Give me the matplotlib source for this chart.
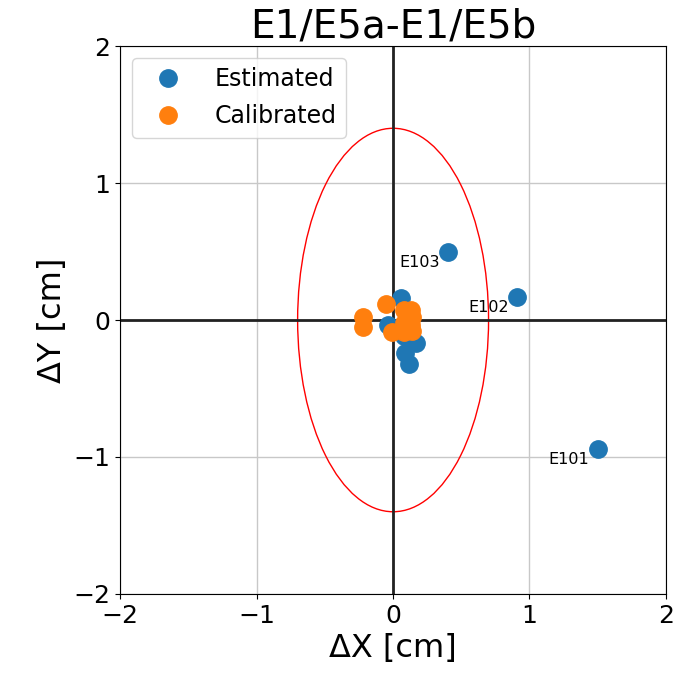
import matplotlib

matplotlib.use("Agg")
import matplotlib.pyplot as plt
from matplotlib.patches import Ellipse

# estimated positions (cm)
est_x = [1.50, 0.91, 0.40, 0.06, -0.04, 0.17, 0.09, 0.12, 0.08]
est_y = [-0.94, 0.17, 0.50, 0.16, -0.04, -0.17, -0.24, -0.32, -0.12]
est_names = ["E101", "E102", "E103"]

# calibrated positions (cm)
cal_x = [-0.05, -0.22, -0.22, -0.01, 0.08, 0.13, 0.14, 0.08, 0.13, 0.08, 0.14, 0.11]
cal_y = [0.12, 0.02, -0.05, -0.09, 0.07, 0.07, 0.02, -0.02, -0.04, -0.09, -0.08, 0.00]

ell_w, ell_h = 1.4, 2.8

fig, ax = plt.subplots(figsize=(6.76, 6.78), dpi=100)
fig.subplots_adjust(left=0.178, right=0.985, top=0.932, bottom=0.124)

ax.set_axisbelow(True)
ax.grid(True, color="#c8c8c8", linewidth=1.0)
ax.axhline(0, color="#222222", linewidth=2.0, zorder=2)
ax.axvline(0, color="#222222", linewidth=2.0, zorder=2)

ax.plot(est_x, est_y, "o", color="tab:blue", markersize=12.5, label="Estimated", zorder=3)
ax.plot(cal_x, cal_y, "o", color="tab:orange", markersize=12.5, label="Calibrated", zorder=4)

for name, x, y in zip(est_names, est_x, est_y):
    ax.text(x - 0.06, y - 0.08, name, ha="right", va="center", fontsize=11.5)

ax.add_patch(Ellipse((0, 0), ell_w, ell_h, fill=False, edgecolor="red", linewidth=1.0))

ax.set_xlim(-2, 2)
ax.set_ylim(-2, 2)
ax.set_xticks([-2, -1, 0, 1, 2])
ax.set_yticks([-2, -1, 0, 1, 2])
ax.tick_params(labelsize=18)
ax.set_xlabel("ΔX [cm]", fontsize=23)
ax.set_ylabel("ΔY [cm]", fontsize=23)
ax.set_title("E1/E5a-E1/E5b", fontsize=28)
ax.legend(loc="upper left", fontsize=17, handlelength=2.2, handletextpad=0.9,
          labelspacing=0.55, borderpad=0.4)

fig.savefig("out.png", dpi=100)
